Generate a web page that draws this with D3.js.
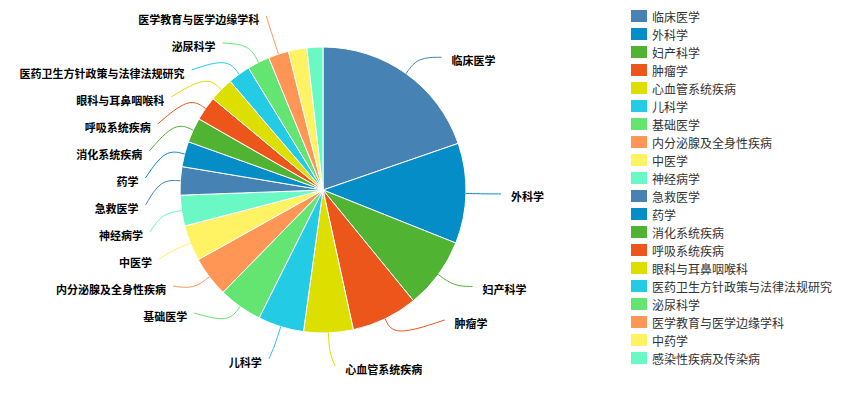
<!DOCTYPE html>
<html>
<head>
<meta charset="utf-8">
<script src="https://cdn.jsdelivr.net/npm/d3@7"></script>
<style>
  html, body { margin: 0; padding: 0; background: #fff; }
  svg { display: block; }
  text { font-family: "Noto Sans CJK SC", "Noto Sans", sans-serif; }
</style>
</head>
<body>
<svg id="chart" width="852" height="396"></svg>
<script>
// Subject categories, in legend / slice order
const categories = [
  "临床医学", "外科学", "妇产科学", "肿瘤学", "心血管系统疾病",
  "儿科学", "基础医学", "内分泌腺及全身性疾病", "中医学", "神经病学",
  "急救医学", "药学", "消化系统疾病", "呼吸系统疾病", "眼科与耳鼻咽喉科",
  "医药卫生方针政策与法律法规研究", "泌尿科学", "医学教育与医学边缘学科", "中药学", "感染性疾病及传染病"
];
// Record counts per category
const counts = [
  710, 408, 290, 270, 201,
  187, 178, 165, 146, 125,
  115, 103, 101, 99, 98,
  91, 91, 83, 75, 65
];
// Colour cycle
const palette = [
  "#4682B4", "#058DC7", "#50B432", "#ED561B", "#DDDF00",
  "#24CBE5", "#64E572", "#FF9655", "#FFF263", "#6AF9C4"
];

const data = categories.map((name, i) => ({ name, value: counts[i] }));

const svg = d3.select("#chart");
const cx = 323, cy = 190, R = 143;

const color = d3.scaleOrdinal().domain(categories).range(palette);

const pie = d3.pie().sort(null).value(d => d.value);
const arcs = pie(data);
const arc = d3.arc().innerRadius(0).outerRadius(R);

const gPie = svg.append("g").attr("transform", `translate(${cx},${cy})`);
gPie.selectAll("path")
  .data(arcs)
  .join("path")
  .attr("d", arc)
  .attr("fill", d => color(d.data.name))
  .attr("stroke", "#fff")
  .attr("stroke-width", 1)
  .attr("stroke-linejoin", "round");

// ---- outside labels with guide lines ----
const L1 = 20;            // radial part of the guide line
const lineR = 178;        // radius where guide lines end
const GAP = 27;           // vertical spacing between neighbouring labels
const GAP_LAST = 46;      // extra clearance for the lowest label on each side
const minShowAngle = 8 * Math.PI / 180;
const topBound = 16, bottomBound = 366;

const items = arcs
  .filter(a => a.endAngle - a.startAngle >= minShowAngle)
  .map(a => {
    const mid = (a.startAngle + a.endAngle) / 2;
    const sx = Math.sin(mid), sy = -Math.cos(mid);
    return {
      arc: a,
      name: a.data.name,
      p0: [cx + R * sx, cy + R * sy],
      p1: [cx + (R + L1) * sx, cy + (R + L1) * sy],
      dir: sx < 0 ? -1 : 1,
      y: cy + (R + L1) * sy
    };
  });

// Spread labels on one side: keep them close to their slices while
// holding the required spacing (pool-adjacent-violators), then clamp to bounds.
function spread(list) {
  list.sort((a, b) => a.y - b.y);
  const n = list.length;
  const offs = list.map((_, i) => i === n - 1 && n > 1 ? GAP * (n - 2) + GAP_LAST : GAP * i);
  const blocks = [];
  list.forEach((it, i) => {
    blocks.push({ sum: it.y - offs[i], n: 1 });
    while (blocks.length > 1) {
      const b2 = blocks[blocks.length - 1], b1 = blocks[blocks.length - 2];
      if (b1.sum / b1.n > b2.sum / b2.n) { b1.sum += b2.sum; b1.n += b2.n; blocks.pop(); }
      else break;
    }
  });
  let i = 0;
  blocks.forEach(b => {
    const m = b.sum / b.n;
    for (let k = 0; k < b.n; k++, i++) list[i].ly = m + offs[i];
  });
  for (let k = 0; k < n; k++) {
    const min = k ? list[k - 1].ly + (offs[k] - offs[k - 1]) : topBound;
    if (list[k].ly < min) list[k].ly = min;
  }
  for (let k = n - 1; k >= 0; k--) {
    const max = k < n - 1 ? list[k + 1].ly - (offs[k + 1] - offs[k]) : bottomBound;
    if (list[k].ly > max) list[k].ly = max;
  }
}

const leftItems = items.filter(d => d.dir < 0);
const rightItems = items.filter(d => d.dir > 0);
spread(leftItems);
spread(rightItems);

items.forEach(d => {
  const dy = Math.abs(d.ly - cy);
  const off = dy < R + L1
    ? Math.sqrt(lineR * lineR - dy * dy)
    : Math.abs(d.p1[0] - cx) + 6;
  d.p2 = [cx + d.dir * off, d.ly];
  d.tx = d.p2[0] + (d.dir < 0 ? -7 : 10);
});

const guide = d3.line().curve(d3.curveBasis);

const gLabels = svg.append("g");
gLabels.selectAll("path")
  .data(items)
  .join("path")
  .attr("d", d => guide([d.p0, d.p1, d.p2]))
  .attr("fill", "none")
  .attr("stroke", d => color(d.name))
  .attr("stroke-width", 1);

gLabels.selectAll("text")
  .data(items)
  .join("text")
  .attr("x", d => d.tx)
  .attr("y", d => d.ly + 2.5)
  .attr("text-anchor", d => d.dir < 0 ? "end" : "start")
  .attr("dominant-baseline", "central")
  .attr("font-size", 11)
  .attr("font-weight", "bold")
  .attr("fill", "#000")
  .text(d => d.name);

// ---- legend ----
const legend = svg.append("g").attr("transform", "translate(631,16)");
const rows = legend.selectAll("g")
  .data(categories)
  .join("g")
  .attr("transform", (d, i) => `translate(0,${i * 18})`);
rows.append("rect")
  .attr("x", 0).attr("y", -6)
  .attr("width", 16).attr("height", 12)
  .attr("fill", d => color(d));
rows.append("text")
  .attr("x", 21).attr("y", 0)
  .attr("dominant-baseline", "central")
  .attr("font-size", 12)
  .attr("fill", "#333")
  .text(d => d);
</script>
</body>
</html>
